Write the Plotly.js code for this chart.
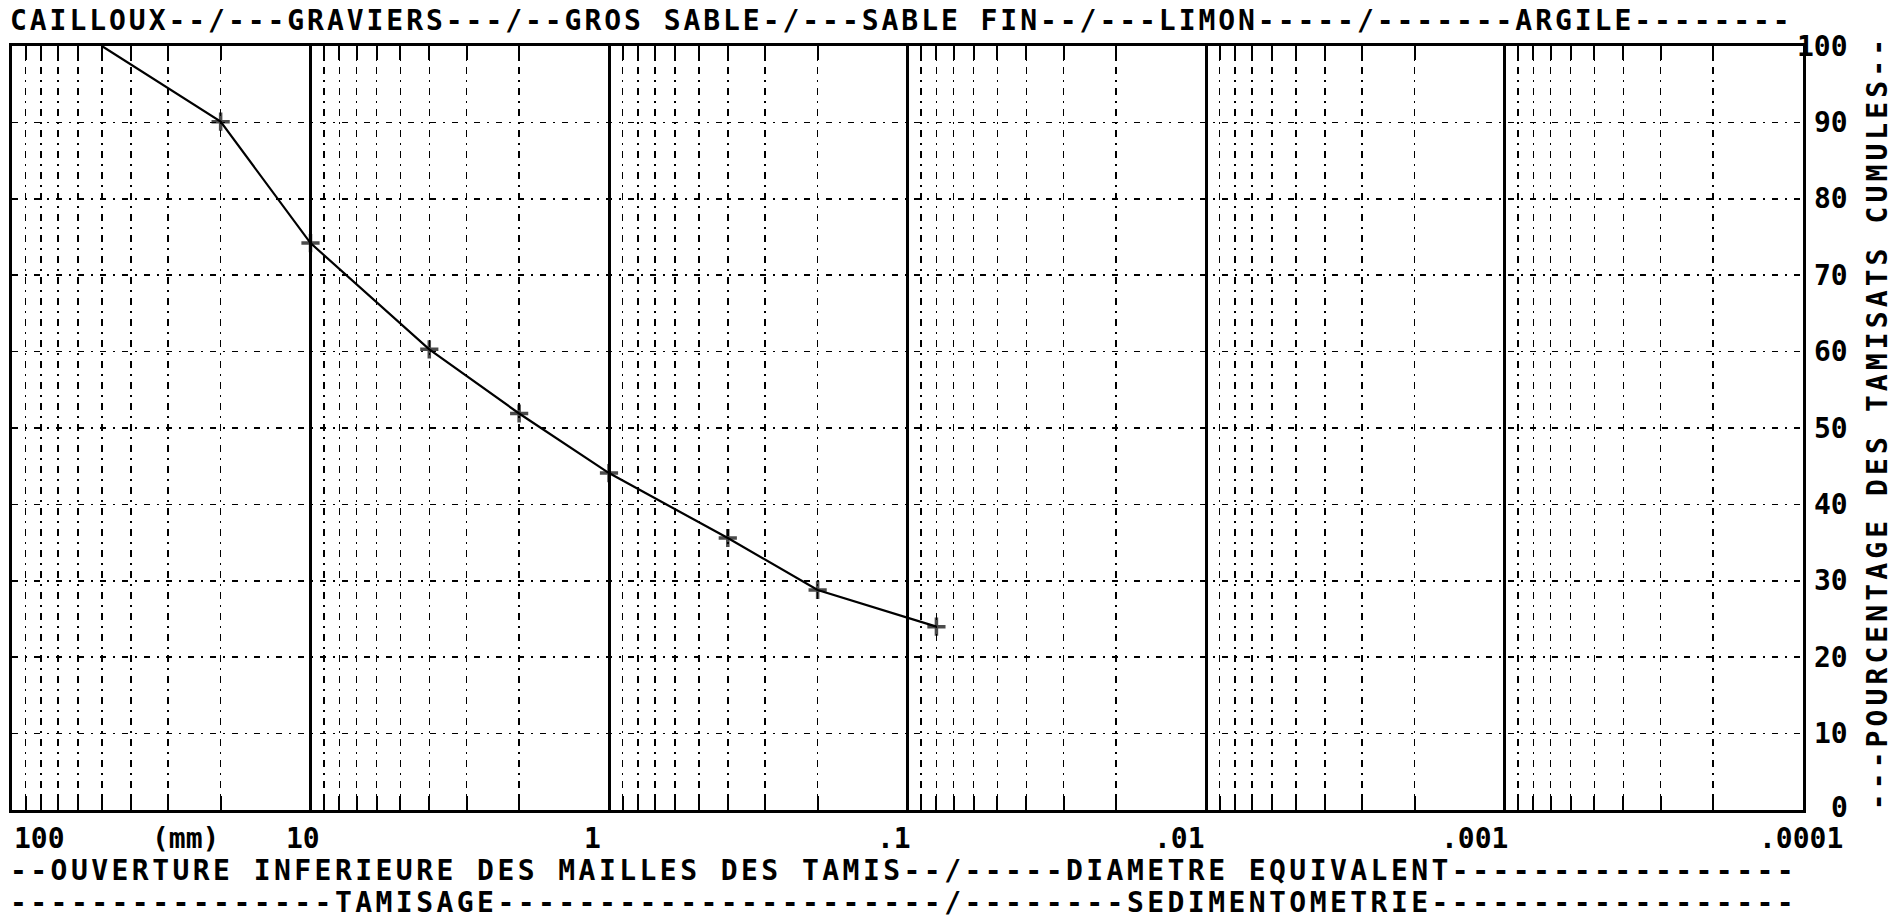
<!DOCTYPE html>
<html>
<head>
<meta charset="utf-8">
<script src="https://cdn.plot.ly/plotly-3.0.1.min.js"></script>
<style>
  html, body { margin: 0; padding: 0; background: #ffffff; }
  #chart { width: 1901px; height: 918px; }
</style>
</head>
<body>
<div id="chart"></div>
<script>
// ---- data ----
const sieveSizes = [50, 20, 10, 4, 2, 1, 0.4, 0.2, 0.08];          // mm
const passingPct = [100, 90.1, 74.2, 60.3, 51.9, 44.1, 35.6, 28.8, 24.0];

const xTickVals = [100, 10, 1, 0.1, 0.01, 0.001, 0.0001];
const xTickText = ['100', '10', '1', '.1', '.01', '.001', '.0001'];
const yTickVals = [0, 10, 20, 30, 40, 50, 60, 70, 80, 90, 100];
const yTickText = ['0', '10', '20', '30', '40', '50', '60', '70', '80', '90', '100'];
const minorMultipliers = [2, 3, 4, 5, 6, 7, 8, 9];

const topLabel = 'CAILLOUX--/---GRAVIERS---/--GROS SABLE-/---SABLE FIN--/---LIMON-----/-------ARGILE--------';
const bottomLabel1 = '--OUVERTURE INFERIEURE DES MAILLES DES TAMIS--/-----DIAMETRE EQUIVALENT-----------------';
const bottomLabel2 = '----------------TAMISAGE----------------------/--------SEDIMENTOMETRIE------------------';
const yTitle = '---POURCENTAGE DES TAMISATS CUMULES--';
const unitLabel = '(mm)';

// ---- derived ----
const minorVals = [];
xTickVals.slice(1).forEach(d => minorMultipliers.forEach(m => minorVals.push(m * d)));

const MONO = 'DejaVu Sans Mono, Liberation Mono, monospace';
const tickFont = { family: MONO, size: 28, color: '#000', weight: 'bold' };
const textFont = { family: MONO, size: 28, color: '#000', weight: 'bold' };

// small pixel nudges so each x label sits like the plotter output
function xLabelPlacement(i, n) {
  if (i === 0) return { anchor: 'left', shift: 1 };
  if (i === n - 1) return { anchor: 'center', shift: -2 };
  const nudges = { 1: 10, 2: -7, 3: 4, 4: 0, 5: 4 };
  return { anchor: 'right', shift: nudges[i] };
}

const annotations = [];
xTickVals.forEach((v, i) => {
  const p = xLabelPlacement(i, xTickVals.length);
  annotations.push({
    xref: 'x', yref: 'paper', x: Math.log10(v), y: 0,
    xanchor: p.anchor, yanchor: 'middle', xshift: p.shift, yshift: -28,
    text: xTickText[i], showarrow: false, font: tickFont, borderpad: 0
  });
});
annotations.push({
  xref: 'paper', yref: 'paper', x: 0.0966, y: 0, xanchor: 'center', yanchor: 'middle',
  yshift: -28, text: unitLabel, showarrow: false, font: tickFont, borderpad: 0
});
yTickVals.forEach((v, i) => {
  annotations.push({
    xref: 'paper', yref: 'y', x: 1, y: v, xanchor: 'right', yanchor: 'middle',
    xshift: 46, yshift: i === 0 ? 3 : 0,
    text: yTickText[i], showarrow: false, font: tickFont, borderpad: 0
  });
});
annotations.push({
  xref: 'paper', yref: 'paper', x: 0, y: 1, xanchor: 'left', yanchor: 'middle', align: 'left',
  xshift: -3, yshift: 26, text: topLabel, showarrow: false, font: textFont, borderpad: 0
});
annotations.push({
  xref: 'paper', yref: 'paper', x: 0, y: 0, xanchor: 'left', yanchor: 'middle', align: 'left',
  xshift: -3, yshift: -60, text: bottomLabel1, showarrow: false, font: textFont, borderpad: 0
});
annotations.push({
  xref: 'paper', yref: 'paper', x: 0, y: 0, xanchor: 'left', yanchor: 'middle', align: 'left',
  xshift: -3, yshift: -92, text: bottomLabel2, showarrow: false, font: textFont, borderpad: 0
});
annotations.push({
  xref: 'paper', yref: 'paper', x: 1, y: 0.408, xanchor: 'center', yanchor: 'middle', align: 'left',
  xshift: 74, textangle: -90, text: yTitle, showarrow: false, font: textFont, borderpad: 0
});

// letter spacing that widens the monospace text to the plotter's wide character cell
const letterSpacing = {};
letterSpacing[topLabel] = 2.95;
letterSpacing[bottomLabel1] = 3.45;
letterSpacing[bottomLabel2] = 3.45;
letterSpacing[yTitle] = 4.1;

const trace = {
  x: sieveSizes,
  y: passingPct,
  type: 'scatter',
  mode: 'lines+markers',
  line: { color: '#000', width: 2.2 },
  marker: {
    symbol: 'cross-thin',
    color: '#000',
    size: sieveSizes.map((_, i) => (i === 0 ? 0 : 13)),
    line: { color: '#000', width: 3.5 }
  },
  hoverinfo: 'skip',
  showlegend: false,
  cliponaxis: false
};

const layout = {
  width: 1901,
  height: 918,
  margin: { l: 12, r: 98, t: 46, b: 108, pad: 0 },
  paper_bgcolor: '#ffffff',
  plot_bgcolor: '#ffffff',
  showlegend: false,
  xaxis: {
    type: 'log',
    range: [2, -4],
    tickmode: 'array',
    tickvals: xTickVals,
    ticktext: xTickText,
    showticklabels: false,
    ticks: '',
    showgrid: true,
    gridcolor: '#000',
    gridwidth: 3,
    zeroline: false,
    showline: true,
    linecolor: '#000',
    linewidth: 3,
    mirror: 'allticks',
    minor: {
      tickmode: 'array',
      tickvals: minorVals,
      showgrid: true,
      gridcolor: '#000',
      gridwidth: 1.5,
      griddash: '7px,6px,2px,6px',
      ticks: 'inside',
      ticklen: 14,
      tickwidth: 2,
      tickcolor: '#000'
    }
  },
  yaxis: {
    range: [0, 100],
    side: 'right',
    tickmode: 'array',
    tickvals: yTickVals,
    ticktext: yTickText,
    showticklabels: false,
    ticks: '',
    showgrid: true,
    gridcolor: '#000',
    gridwidth: 1.5,
    griddash: '6px,7px,2px,7px',
    zeroline: false,
    showline: true,
    linecolor: '#000',
    linewidth: 3,
    mirror: true
  },
  annotations: annotations
};

Plotly.newPlot('chart', [trace], layout, { staticPlot: true, displayModeBar: false }).then(gd => {
  gd.querySelectorAll('.annotation-text').forEach(el => {
    const ls = letterSpacing[el.textContent];
    if (ls) el.setAttribute('letter-spacing', ls + 'px');
  });
});
</script>
</body>
</html>
